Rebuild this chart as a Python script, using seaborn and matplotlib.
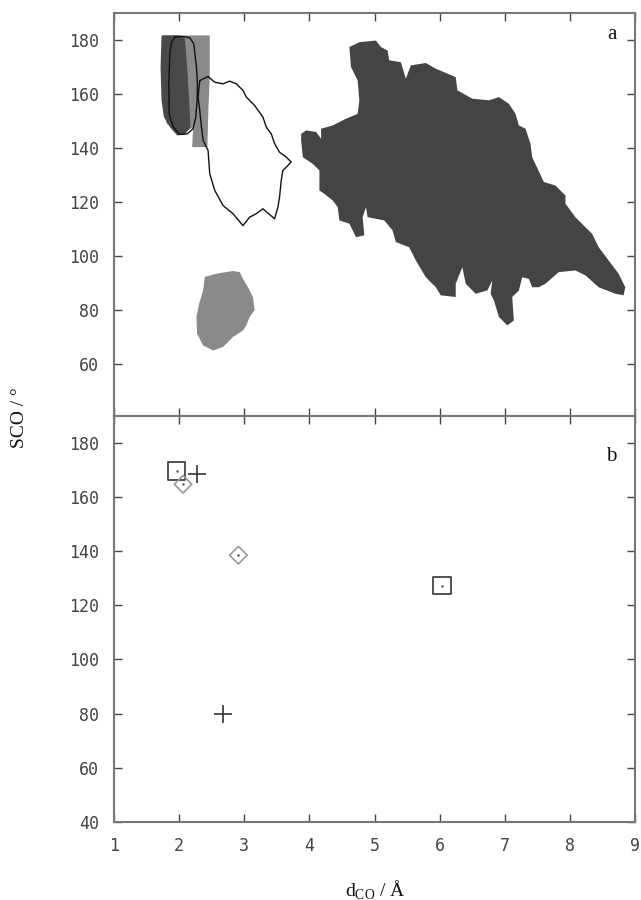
import numpy as np
import pandas as pd
import matplotlib
matplotlib.use("Agg")
import matplotlib.pyplot as plt
import seaborn as sns

# ---------------- data (d_CO in Angstrom, SCO angle in degrees) ----------------
# panel a: large dark region
big_x = [3.874, 3.950, 4.103, 4.180, 4.180, 4.358, 4.563, 4.741, 4.767, 4.741, 4.639, 4.614,
         4.767, 5.022, 5.099, 5.201, 5.226, 5.405, 5.481, 5.558, 5.788, 5.941, 6.247, 6.273,
         6.502, 6.758, 6.911, 7.064, 7.166, 7.217, 7.319, 7.396, 7.421, 7.600, 7.779, 7.932,
         7.932, 8.085, 8.238, 8.340, 8.442, 8.595, 8.748, 8.850, 8.825, 8.697, 8.442, 8.238,
         8.085, 7.830, 7.625, 7.523, 7.421, 7.370, 7.268, 7.217, 7.115, 7.140, 7.038, 6.911,
         6.834, 6.783, 6.809, 6.732, 6.553, 6.400, 6.349, 6.247, 6.247, 6.017, 5.941, 5.788,
         5.635, 5.532, 5.328, 5.277, 5.150, 4.894, 4.869, 4.818, 4.843, 4.716, 4.614, 4.461,
         4.435, 4.358, 4.231, 4.154, 4.154, 4.052, 3.899, 3.874]
big_y = [145.2, 146.5, 145.9, 143.4, 147.1, 148.3, 150.8, 152.6, 157.6, 165.0, 169.9, 177.3,
         179.1, 179.7, 177.3, 176.0, 172.4, 171.7, 165.6, 170.5, 171.4, 169.3, 166.2, 161.3,
         158.2, 157.6, 158.8, 156.3, 152.6, 148.3, 147.1, 141.5, 136.6, 127.4, 126.1, 122.4,
         119.4, 114.4, 110.7, 108.3, 103.3, 98.4, 93.5, 88.5, 85.5, 86.1, 88.5, 92.9,
         94.7, 94.1, 89.8, 88.5, 88.5, 91.6, 92.2, 87.3, 84.9, 76.2, 74.4, 77.5,
         83.6, 86.1, 91.0, 87.3, 86.1, 89.8, 95.9, 89.8, 84.9, 85.5, 88.5, 92.2,
         98.4, 103.3, 105.2, 109.5, 113.2, 114.4, 118.1, 114.4, 107.7, 107.0, 112.0, 113.2,
         118.1, 120.6, 123.0, 124.3, 131.7, 134.1, 136.6, 142.8]

# panel a: medium grey band (upper left)
band_x = [1.755, 2.470, 2.470, 2.450, 2.434, 2.200, 2.215, 2.062, 1.807, 1.755]
band_y = [181.6, 181.6, 165.6, 155.1, 140.3, 140.3, 147.7, 145.2, 148.9, 157.6]

# panel a: dark grey region (upper left)
dark_x = [1.730, 2.011, 2.087, 2.123, 2.154, 2.174, 2.087, 1.970, 1.858, 1.766, 1.730, 1.715]
dark_y = [181.6, 181.6, 180.4, 169.9, 157.6, 147.7, 145.0, 144.6, 147.7, 151.4, 157.6, 169.9]

# panel a: medium grey region (lower)
low_x = [2.394, 2.573, 2.827, 2.930, 2.980, 3.057, 3.134, 3.159, 3.083, 3.032, 2.980, 2.827,
         2.674, 2.521, 2.368, 2.276, 2.266, 2.306, 2.368]
low_y = [92.3, 93.5, 94.5, 94.1, 91.6, 88.5, 84.8, 80.0, 77.5, 74.4, 72.5, 70.1,
         66.4, 65.1, 67.0, 71.3, 77.5, 82.3, 87.3]

# panel a: outlined narrow region
oval_x = [1.934, 2.062, 2.164, 2.225, 2.266, 2.281, 2.276, 2.256, 2.215, 2.123, 2.011, 1.909,
          1.847, 1.842, 1.858, 1.883, 1.934]
oval_y = [181.0, 181.2, 180.7, 178.5, 169.9, 163.7, 157.6, 151.4, 147.1, 145.2, 145.0, 147.7,
          152.6, 163.7, 174.8, 179.1, 181.0]

# panel a: outlined wide region
ring_x = [2.317, 2.444, 2.547, 2.674, 2.776, 2.879, 2.980, 3.032, 3.159, 3.287, 3.338, 3.415,
          3.466, 3.542, 3.645, 3.721, 3.670, 3.593, 3.568, 3.542, 3.517, 3.466, 3.287, 3.185,
          3.083, 2.980, 2.827, 2.674, 2.547, 2.470, 2.444, 2.368, 2.343, 2.317, 2.291, 2.317]
ring_y = [164.9, 166.4, 164.3, 163.7, 164.7, 163.7, 161.3, 158.8, 155.7, 151.4, 147.7, 145.2,
          141.6, 138.4, 136.6, 134.8, 133.5, 131.7, 128.0, 121.8, 118.1, 113.8, 117.5, 115.7,
          114.4, 111.3, 115.7, 118.7, 124.3, 130.5, 139.1, 142.8, 147.7, 153.9, 158.8, 164.9]

# panel b: individual structures
sq_x = [1.96, 6.04]
sq_y = [169.5, 127.3]
dm_x = [2.06, 2.91]
dm_y = [164.7, 138.5]
pl_x = [2.28, 2.68]
pl_y = [168.4, 80.0]

x_ticks = [1, 2, 3, 4, 5, 6, 7, 8, 9]
ya_ticks = [60, 80, 100, 120, 140, 160, 180]
yb_ticks = [40, 60, 80, 100, 120, 140, 160, 180]

# ---------------- style ----------------
sns.set_theme(style="white")
plt.rcParams["font.family"] = ["DejaVu Sans Mono", "DejaVu Sans"]
plt.rcParams["mathtext.fontset"] = "custom"
plt.rcParams["mathtext.rm"] = "Liberation Serif"

fig = plt.figure(figsize=(6.41, 9.0), dpi=100)
L, W = 114 / 641, (635 - 114) / 641
ax_a = fig.add_axes([L, 1 - 415.7 / 900, W, (415.7 - 12.7) / 900])
ax_b = fig.add_axes([L, 1 - 822 / 900, W, (822 - 415.7) / 900])

# panel a regions
ax_a.fill(band_x, band_y, color="#8a8a8a", lw=0, zorder=1)
ax_a.fill(dark_x, dark_y, color="#494949", lw=0, zorder=2)
ax_a.fill(low_x, low_y, color="#8a8a8a", lw=0, zorder=1)
ax_a.fill(big_x, big_y, color="#444444", lw=0, zorder=1)
ax_a.plot(oval_x, oval_y, color="#111111", lw=1.0, zorder=3)
ax_a.plot(ring_x, ring_y, color="#111111", lw=1.0, zorder=3)

# panel b markers
df_sq = pd.DataFrame({"d": sq_x, "a": sq_y})
df_dm = pd.DataFrame({"d": dm_x, "a": dm_y})
df_pl = pd.DataFrame({"d": pl_x, "a": pl_y})
sns.scatterplot(data=df_sq, x="d", y="a", marker="s", s=160, fc="none", ec="#444444",
                linewidth=1.3, ax=ax_b, zorder=3)
sns.scatterplot(data=df_dm, x="d", y="a", marker="D", s=80, fc="none", ec="#999999",
                linewidth=1.2, ax=ax_b, zorder=3)
sns.scatterplot(data=df_pl, x="d", y="a", marker="+", s=170, color="#333333",
                linewidth=1.2, ax=ax_b, zorder=3)
for df in (df_sq, df_dm):
    ax_b.scatter(df["d"], df["a"], s=0.6, color="#555555", zorder=4)

for ax, yt, ylim in ((ax_a, ya_ticks, (41, 190)), (ax_b, yb_ticks, (40, 190))):
    ax.set_xlim(1, 9)
    ax.set_ylim(*ylim)
    ax.set_xticks(x_ticks)
    ax.set_yticks(yt)
    ax.set_xlabel("")
    ax.set_ylabel("")
    for sp in ax.spines.values():
        sp.set_color("#777777")
        sp.set_linewidth(1.5)
    ax.tick_params(direction="in", length=6, width=1.0, color="#444444",
                   top=True, right=True, left=True, bottom=True,
                   labelsize=12, labelcolor="#444444", pad=11)

ax_a.tick_params(labelbottom=False)

ax_a.text(0.955, 0.945, "a", transform=ax_a.transAxes, family="Liberation Serif",
          fontsize=15, ha="center", va="center", color="#111111")
ax_b.text(0.955, 0.9, "b", transform=ax_b.transAxes, family="Liberation Serif",
          fontsize=15, ha="center", va="center", color="#111111")

fig.text(20 / 641, 1 - 418 / 900, "SCO / °", rotation=90, family="Liberation Serif",
         fontsize=14, ha="center", va="center", color="#111111")
fig.text(375 / 641, 1 - 890 / 900, r"d$_{\mathrm{CO}}$ / Å", family="Liberation Serif",
         fontsize=14, ha="center", va="center", color="#111111")

fig.savefig("out.png", dpi=100)
